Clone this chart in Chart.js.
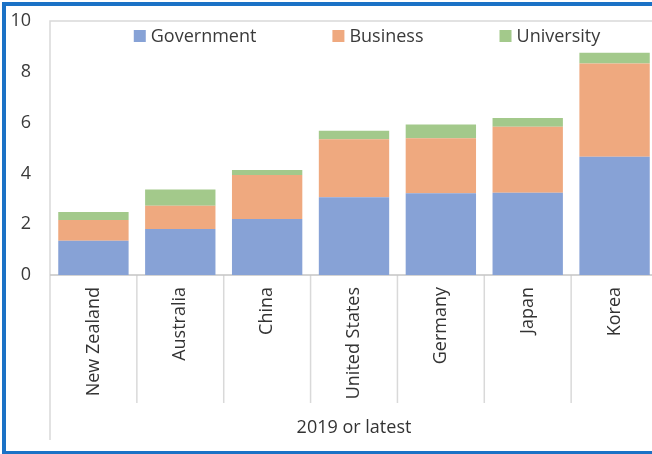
<!DOCTYPE html>
<html>
<head>
<meta charset="utf-8">
<script src="https://cdn.jsdelivr.net/npm/chart.js@4"></script>
<style>
  html, body { margin: 0; padding: 0; background: #fff; overflow: hidden; }
  #wrap { position: relative; width: 660px; height: 454px; }
  #marco { position: absolute; left: 2px; top: 2px; width: 700px; height: 453px;
           border: 4px solid #1b72c6; border-right: none; box-sizing: border-box; }
  #grafico { position: absolute; left: 0; top: 0; }
</style>
</head>
<body>
<div id="wrap">
  <div id="marco"></div>
  <canvas id="grafico" width="660" height="454"></canvas>
</div>
<script>
// Datos por país (2019 o último año disponible)
const paises = ['New Zealand', 'Australia', 'China', 'United States', 'Germany', 'Japan', 'Korea'];
const gobierno = [1.35, 1.81, 2.20, 3.06, 3.22, 3.24, 4.66];
const empresas = [0.82, 0.92, 1.74, 2.28, 2.16, 2.60, 3.67];
const universidad = [0.31, 0.64, 0.19, 0.34, 0.55, 0.34, 0.42];
const ticksY = [0, 2, 4, 6, 8, 10];

const fuente = '"Open Sans", "DejaVu Sans", sans-serif';

// Marco gris del área del gráfico y separadores de categorías bajo el eje
const marcoEjes = {
  id: 'marcoEjes',
  beforeDatasetsDraw(chart) {
    const ctx = chart.ctx;
    const area = chart.chartArea;
    const x = chart.scales.x;
    const n = paises.length;
    ctx.save();
    ctx.strokeStyle = '#d9d9d9';
    ctx.lineWidth = 1.5;
    ctx.beginPath();
    ctx.moveTo(area.left, area.bottom);
    ctx.lineTo(area.left, area.top);
    ctx.lineTo(area.right, area.top);
    ctx.stroke();
    for (let i = 0; i <= n; i++) {
      const px = x.left + i * (x.width / n);
      const fin = (i === 0 || i === n) ? 440 : 403;
      ctx.beginPath();
      ctx.moveTo(px, area.bottom);
      ctx.lineTo(px, fin);
      ctx.stroke();
    }
    ctx.strokeStyle = '#c4c4c4';
    ctx.lineWidth = 1.5;
    ctx.beginPath();
    ctx.moveTo(area.left, area.bottom);
    ctx.lineTo(area.right, area.bottom);
    ctx.stroke();
    ctx.restore();
  }
};

// Leyenda dentro del área del gráfico
const leyenda = {
  id: 'leyenda',
  afterDraw(chart) {
    const ctx = chart.ctx;
    const caja = 12, hueco = 5, separa = 76;
    const centroX = 367, centroY = 36;
    ctx.save();
    ctx.font = '18px ' + fuente;
    ctx.textBaseline = 'middle';
    const items = chart.data.datasets.map(d => ({
      texto: d.label, color: d.backgroundColor, ancho: caja + hueco + ctx.measureText(d.label).width
    }));
    const total = items.reduce((s, it) => s + it.ancho, 0) + separa * (items.length - 1);
    let x = centroX - total / 2;
    items.forEach(it => {
      ctx.fillStyle = it.color;
      ctx.fillRect(x, centroY - caja / 2, caja, caja);
      ctx.fillStyle = '#3a3a3a';
      ctx.fillText(it.texto, x + caja + hueco, centroY + 1);
      x += it.ancho + separa;
    });
    ctx.restore();
  }
};

const ctx = document.getElementById('grafico').getContext('2d');
const myChart = new Chart(ctx, {
  type: 'bar',
  data: {
    labels: paises,
    datasets: [
      { label: 'Government', data: gobierno, backgroundColor: '#87a2d6' },
      { label: 'Business', data: empresas, backgroundColor: '#efa97f' },
      { label: 'University', data: universidad, backgroundColor: '#a3c98b' }
    ]
  },
  options: {
    responsive: false,
    animation: false,
    layout: { padding: { top: 21, right: 2, bottom: 0, left: 0 } },
    datasets: { bar: { categoryPercentage: 1, barPercentage: 0.81, borderWidth: 0 } },
    plugins: { legend: { display: false }, tooltip: { enabled: false } },
    scales: {
      x: {
        stacked: true,
        grid: { display: false, drawTicks: false },
        border: { display: false },
        ticks: {
          minRotation: 90, maxRotation: 90, padding: 12,
          color: '#333333', font: { family: fuente, size: 18 }
        },
        title: {
          display: true, text: '2019 or latest', color: '#333333',
          font: { family: fuente, size: 18 }, padding: { top: 0, bottom: 15 }
        },
        afterFit(scale) { scale.height = 179; }
      },
      y: {
        stacked: true,
        min: 0, max: 10,
        // marcas ocultas: solo separan las etiquetas del eje
        grid: { display: false, drawTicks: true, tickLength: 17 },
        border: { display: false },
        afterBuildTicks(scale) { scale.ticks = ticksY.map(v => ({ value: v })); },
        ticks: { padding: 2, color: '#3a3a3a', font: { family: fuente, size: 18 } },
        afterFit(scale) { scale.width = 50; }
      }
    }
  },
  plugins: [marcoEjes, leyenda]
});
</script>
</body>
</html>
